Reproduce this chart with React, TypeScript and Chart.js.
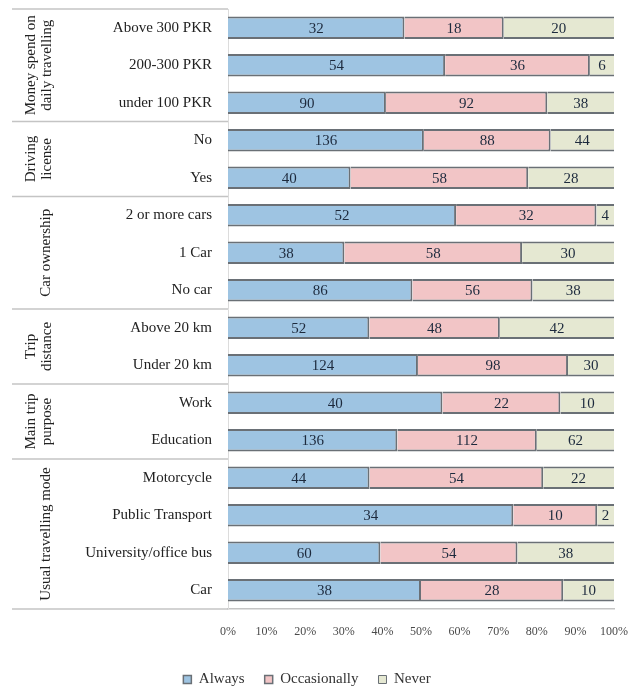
import React, { useEffect, useRef } from 'react';
import { Chart, registerables } from 'chart.js';

Chart.register(...registerables);

const categories = [
  'Above 300 PKR', '200-300 PKR', 'under 100 PKR',
  'No', 'Yes',
  '2 or more cars', '1 Car', 'No car',
  'Above 20 km', 'Under 20 km',
  'Work', 'Education',
  'Motorcycle', 'Public Transport', 'University/office bus', 'Car',
];
const always = [32, 54, 90, 136, 40, 52, 38, 86, 52, 124, 40, 136, 44, 34, 60, 38];
const occasionally = [18, 36, 92, 88, 58, 32, 58, 56, 48, 98, 22, 112, 54, 10, 54, 28];
const never = [20, 6, 38, 44, 28, 4, 30, 38, 42, 30, 10, 62, 22, 2, 38, 10];
const seriesNames = ['Always', 'Occasionally', 'Never'];
const groupNames = [
  ['Money spend on', 'daily travelling'],
  ['Driving', 'license'],
  ['Car ownership'],
  ['Trip', 'distance'],
  ['Main trip', 'purpose'],
  ['Usual travelling mode'],
];
const groupSizes = [3, 2, 3, 2, 2, 4];
const xTickValues = [0, 10, 20, 30, 40, 50, 60, 70, 80, 90, 100];

const SERIF = '"Liberation Serif", "Times New Roman", serif';
const fills = ['#9ec4e2', '#f2c5c6', '#e5e8d2'];
const edge = '#6a7076';

const totals = categories.map((_, i) => always[i] + occasionally[i] + never[i]);
const pct = (arr: number[]) => arr.map((v, i) => (v / totals[i]) * 100);
const counts = [always, occasionally, never];

const labelPlugin = {
  id: 'segLabels',
  afterDatasetsDraw(chart: any) {
    const ctx = chart.ctx;
    ctx.save();
    ctx.font = `15px ${SERIF}`;
    ctx.fillStyle = '#1d2a3d';
    ctx.textAlign = 'center';
    ctx.textBaseline = 'middle';
    chart.data.datasets.forEach((ds: any, di: number) => {
      const meta = chart.getDatasetMeta(di);
      meta.data.forEach((bar: any, i: number) => {
        const cx = (bar.x + bar.base) / 2;
        ctx.fillText(String(counts[di][i]), cx, bar.y + 1);
      });
    });
    ctx.restore();
  },
};

const groupPlugin = {
  id: 'groups',
  afterDraw(chart: any) {
    const ctx = chart.ctx;
    const y = chart.scales.y;
    const area = chart.chartArea;
    const step = y.getPixelForValue(1) - y.getPixelForValue(0);
    ctx.save();
    ctx.strokeStyle = '#c4c4c4';
    ctx.lineWidth = 1.5;
    let start = 0;
    const lineX0 = 12;
    groupSizes.forEach((size, g) => {
      const top = y.getPixelForValue(start) - step / 2;
      const bottom = y.getPixelForValue(start + size - 1) + step / 2;
      ctx.beginPath();
      ctx.moveTo(lineX0, top);
      ctx.lineTo(area.left, top);
      ctx.stroke();
      if (g === groupSizes.length - 1) {
        ctx.beginPath();
        ctx.moveTo(lineX0, bottom);
        ctx.lineTo(area.left, bottom);
        ctx.stroke();
      }
      const lines = groupNames[g];
      const cy = (top + bottom) / 2;
      ctx.save();
      ctx.font = `15px ${SERIF}`;
      ctx.fillStyle = '#222';
      ctx.textAlign = 'center';
      ctx.textBaseline = 'middle';
      const xs = lines.length === 2 ? [31, 47] : [46];
      lines.forEach((t, k) => {
        ctx.save();
        ctx.translate(xs[k], cy);
        ctx.rotate(-Math.PI / 2);
        ctx.fillText(t, 0, 0);
        ctx.restore();
      });
      ctx.restore();
      start += size;
    });
    ctx.restore();
  },
};

export default function App() {
  const ref = useRef<HTMLCanvasElement | null>(null);
  useEffect(() => {
    if (!ref.current) return;
    const bw = (last: boolean) => ({ top: 2, bottom: 2, left: 0, right: last ? 0 : 2 });
    const chart = new Chart(ref.current, {
      type: 'bar',
      data: {
        labels: categories,
        datasets: [
          { label: seriesNames[0], data: pct(always), backgroundColor: fills[0], borderColor: edge, borderWidth: bw(false), borderSkipped: false },
          { label: seriesNames[1], data: pct(occasionally), backgroundColor: fills[1], borderColor: edge, borderWidth: bw(false), borderSkipped: false },
          { label: seriesNames[2], data: pct(never), backgroundColor: fills[2], borderColor: edge, borderWidth: bw(true), borderSkipped: false },
        ] as any,
      },
      options: {
        indexAxis: 'y',
        responsive: false,
        animation: false,
        maintainAspectRatio: false,
        layout: { padding: { top: 9, right: 30, left: 0, bottom: -8 } },
        datasets: { bar: { barPercentage: 0.6, categoryPercentage: 1 } },
        scales: {
          x: {
            stacked: true,
            min: 0,
            max: 100,
            afterBuildTicks: (s: any) => { s.ticks = xTickValues.map((v) => ({ value: v })); },
            afterFit: (s: any) => { s.height = 43; },
            grid: { display: false, drawTicks: false },
            border: { display: true, color: '#c4c4c4', width: 1.5 },
            ticks: {
              padding: 16,
              color: '#4a4a4a',
              font: { family: SERIF, size: 12 },
              callback: (v: any) => `${v}%`,
            },
          },
          y: {
            stacked: true,
            afterFit: (s: any) => { s.width = 228; s.paddingTop = 0; s.paddingBottom = 0; },
            grid: { display: false, drawTicks: false },
            border: { display: true, color: '#dcdcdc', width: 1 },
            ticks: {
              padding: 16,
              color: '#222',
              font: { family: SERIF, size: 15 },
              autoSkip: false,
            },
          },
        },
        plugins: {
          legend: {
            position: 'bottom',
            labels: {
              boxWidth: 8,
              boxHeight: 8,
              padding: 20,
              color: '#333',
              font: { family: SERIF, size: 15 },
            },
          },
          tooltip: { enabled: false },
        },
      } as any,
      plugins: [labelPlugin, groupPlugin],
    });
    return () => chart.destroy();
  }, []);
  return (
    <div style={{ position: 'fixed', left: 0, top: 0, width: 644, height: 689, background: '#fff' }}>
      <canvas ref={ref} width={644} height={689} style={{ display: 'block' }} />
    </div>
  );
}
